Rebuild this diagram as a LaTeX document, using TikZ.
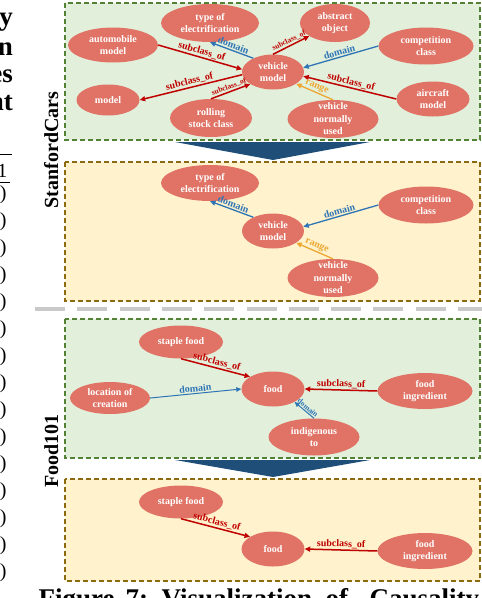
\documentclass[tikz,border=0pt]{standalone}
\usepackage{fontspec}
\setmainfont{Liberation Serif}
\usetikzlibrary{arrows.meta,shapes.geometric}
\definecolor{nodered}{HTML}{E07366}
\definecolor{panelgreen}{HTML}{E2EFDA}
\definecolor{edgegreen}{HTML}{548235}
\definecolor{panelyellow}{HTML}{FFF2CC}
\definecolor{edgeyellow}{HTML}{8C6A10}
\definecolor{navy}{HTML}{1F4E79}
\definecolor{subred}{HTML}{C00000}
\definecolor{domblue}{HTML}{2E75B6}
\definecolor{rangeorange}{HTML}{EDA731}
\definecolor{sepgray}{HTML}{C9C9C9}
\tikzset{
  concept/.style 2 args={ellipse,fill=nodered,text=white,align=center,inner sep=-30pt,minimum width=#1,minimum height=#2,font=\fontsize{10}{12.5}\selectfont\bfseries},
  greenpanel/.style={draw=edgegreen,fill=panelgreen,line width=1.2pt,dash pattern=on 5pt off 3pt},
  yellowpanel/.style={draw=edgeyellow,fill=panelyellow,line width=1.2pt,dash pattern=on 5pt off 3pt},
  sub/.style={-{Triangle[length=5.5pt,width=5pt]},line width=1.5pt,subred},
  dom/.style={-{Triangle[length=5.5pt,width=5pt]},line width=1.3pt,domblue},
  thindom/.style={-{Triangle[length=5pt,width=4.5pt]},line width=1pt,domblue},
  rng/.style={-{Triangle[length=5.5pt,width=5pt]},line width=1.3pt,rangeorange},
  lab/.style={sloped,above,inner sep=1pt,font=\fontsize{10}{12}\selectfont\bfseries},
  smalllab/.style={sloped,above,inner sep=1pt,font=\fontsize{7.5}{9}\selectfont\bfseries},
  dataset/.style={rotate=90,anchor=base,font=\fontsize{20}{24}\selectfont\bfseries},
  pagetext/.style={anchor=base east,font=\fontsize{27}{32}\selectfont\bfseries},
  tabletext/.style={anchor=base east,font=\fontsize{20}{24}\selectfont},
  captext/.style={anchor=base west,font=\fontsize{27}{32}\selectfont\bfseries}
}

\begin{document}
\begin{tikzpicture}[x=1pt,y=-1pt]
  \useasboundingbox (0,0) rectangle (482,598);
  \node[pagetext] (py) at (16.5,25) {py};
  \node[pagetext] (n) at (16.5,55) {n};
  \node[pagetext] (es) at (16.5,82) {es};
  \node[pagetext] (nt) at (16.5,110) {nt};
  \draw[line width=0.8pt] (0,154) -- (12,154);
  \node[tabletext] (head) at (11,177) {1};
  \draw[line width=0.8pt] (0,182) -- (10,182);
  \foreach \d/\y [count=\i] in {9/199,2/226,4/253,4/280,5/307,1/334,5/361,3/388,0/415,1/442,3/469,9/496,7/523,2/550,3/577}
    \node[tabletext] (row\i) at (10,\y) {\d)};

  \draw[greenpanel] (65,3) rectangle (480,140);
  \draw[yellowpanel] (65,162) rectangle (480,301);
  \draw[greenpanel] (65,319) rectangle (480,458);
  \draw[yellowpanel] (65,479) rectangle (480,581);
  \fill[navy] (175,142) -- (370,142) -- (273,160) -- cycle;
  \fill[navy] (175,460) -- (370,460) -- (273,477) -- cycle;
  \draw[sepgray,line width=4pt,dash pattern=on 30pt off 12.3pt] (35,309) -- (482,309);

  \node[dataset] (cars) at (58,150) {StanfordCars};
  \node[dataset] (food) at (58,451) {Food101};

  \node[concept={98pt}{38pt}] (type) at (210,23) {type of\\electrification};
  \node[concept={70pt}{38pt}] (abstract) at (335,23) {abstract\\object};
  \node[concept={90pt}{35pt}] (auto) at (113,45) {automobile\\model};
  \node[concept={95pt}{37pt}] (comp) at (426,46) {competition\\class};
  \node[concept={62pt}{35pt}] (vm) at (273,72) {vehicle\\model};
  \node[concept={63pt}{31pt}] (model) at (108,100) {model};
  \node[concept={82pt}{38pt}] (rolling) at (211,118) {rolling\\stock class};
  \node[concept={91pt}{38pt}] (vnu) at (333,119) {vehicle\\normally\\used};
  \node[concept={73pt}{35pt}] (aircraft) at (433,99) {aircraft\\model};
  \draw[sub] (auto.east) -- node[lab]{subclass\_of} (vm.175);
  \draw[sub] (vm.185) -- node[lab]{subclass\_of} (model.east);
  \draw[dom] (vm.145) -- node[lab]{domain} (type.south);
  \draw[sub] (vm.north) -- node[smalllab]{subclass\_of} (abstract.207);
  \draw[dom] (comp.west) -- node[lab]{domain} (vm.8);
  \draw[sub] (aircraft.west) -- node[lab]{subclass\_of} (vm.352);
  \draw[rng] (vnu.north) -- node[lab]{range} (vm.333);
  \draw[sub] (rolling.north) -- node[smalllab]{subclass\_of} (vm.208);

  \node[concept={98pt}{36pt}] (type2) at (210,183) {type of\\electrification};
  \node[concept={95pt}{37pt}] (comp2) at (426,205) {competition\\class};
  \node[concept={62pt}{35pt}] (vm2) at (273,231) {vehicle\\model};
  \node[concept={91pt}{38pt}] (vnu2) at (333,278) {vehicle\\normally\\used};
  \draw[dom] (vm2.145) -- node[lab]{domain} (type2.south);
  \draw[dom] (comp2.west) -- node[lab]{domain} (vm2.8);
  \draw[rng] (vnu2.north) -- node[lab]{range} (vm2.333);

  \node[concept={84pt}{33pt}] (staple) at (181,342) {staple food};
  \node[concept={80pt}{32pt}] (location) at (110,398) {location of\\creation};
  \node[concept={63pt}{35pt}] (fd) at (273,389) {food};
  \node[concept={95pt}{36pt}] (ingredient) at (425,391) {food\\ingredient};
  \node[concept={91pt}{37pt}] (indigenous) at (314,437) {indigenous\\to};
  \draw[sub] (staple.south) -- node[lab]{subclass\_of} (fd.152);
  \draw[thindom] (location.east) -- node[lab]{domain} (fd.west);
  \draw[sub] (ingredient.west) -- node[lab]{subclass\_of} (fd.east);
  \draw[thindom] (indigenous.north) -- node[smalllab,pos=0.45]{domain} (fd.329);

  \node[concept={84pt}{33pt}] (staple2) at (181,502) {staple food};
  \node[concept={63pt}{35pt}] (fd2) at (273,549) {food};
  \node[concept={95pt}{36pt}] (ingredient2) at (425,551) {food\\ingredient};
  \draw[sub] (staple2.south) -- node[lab]{subclass\_of} (fd2.152);
  \draw[sub] (ingredient2.west) -- node[lab]{subclass\_of} (fd2.east);

  \node[captext] (cap1) at (35,607) {Figure};
  \node[captext] (cap2) at (122,607) {7:};
  \node[captext] (cap3) at (158,607) {Visualization};
  \node[captext] (cap4) at (322,607) {of};
  \node[captext] (cap5) at (366,607) {Causality};
\end{tikzpicture}
\end{document}
